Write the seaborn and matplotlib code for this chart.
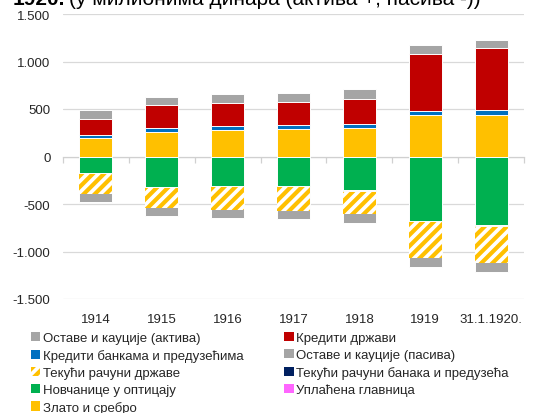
import matplotlib
matplotlib.use('Agg')  # no GUI windows

import numpy as np
import pandas as pd
import matplotlib.pyplot as plt
from matplotlib.patches import Patch
import seaborn as sns

# --------------------------------------------------
# Data (у милионима динара)
# --------------------------------------------------
years = ['1914', '1915', '1916', '1917', '1918', '1919', '31.1.1920.']

# актива (+), from zero upwards
gold_silver = [194, 261, 278, 289, 296, 437, 440]
loans_banks = [31, 35, 42, 38, 42, 42, 46]
loans_state = [173, 250, 240, 250, 271, 602, 651]
deposits_assets = [88, 84, 95, 88, 102, 88, 85]

# пасива (-), from zero downwards
notes = [178, 318, 312, 312, 357, 678, 724]
accounts_banks = [0, 0, 3, 3, 1, 5, 8]
accounts_state = [221, 227, 244, 254, 251, 388, 391]
deposits_liab = [84, 84, 88, 91, 95, 91, 88]
paid_capital = [0, 0, 0, 0, 0, 0, 0]

y_ticks = [1500, 1000, 500, 0, -500, -1000, -1500]
y_tick_labels = ['1.500', '1.000', '500', '0', '-500', '-1.000', '-1.500']

label_dep_a = 'Оставе и кауције (актива)'
label_loans_state = 'Кредити држави'
label_loans_banks = 'Кредити банкама и предузећима'
label_dep_l = 'Оставе и кауције (пасива)'
label_acc_state = 'Текући рачуни државе'
label_acc_banks = 'Текући рачуни банака и предузећа'
label_notes = 'Новчанице у оптицају'
label_capital = 'Уплаћена главница'
label_gold = 'Злато и сребро'

GRAY = '#A5A5A5'
RED = '#C00000'
BLUE = '#0070C0'
GOLD = '#FFC000'
GREEN = '#00B050'
NAVY = '#002060'
PINK = '#FF66FF'

# --------------------------------------------------
# Style
# --------------------------------------------------
sns.set_style('white')
plt.rcParams['font.family'] = ['Liberation Sans', 'DejaVu Sans']
plt.rcParams['hatch.linewidth'] = 3.0

df = pd.DataFrame({
    'year': years,
    'gold': gold_silver,
    'loans_banks': loans_banks,
    'loans_state': loans_state,
    'dep_a': deposits_assets,
    'notes': notes,
    'acc_banks': accounts_banks,
    'acc_state': accounts_state,
    'dep_l': deposits_liab,
    'capital': paid_capital,
})

# cumulative stacks (drawn largest first, overlapping)
pos_layers = [
    (df['gold'] + df['loans_banks'] + df['loans_state'] + df['dep_a'], GRAY, {}),
    (df['gold'] + df['loans_banks'] + df['loans_state'], RED, {}),
    (df['gold'] + df['loans_banks'], BLUE, {}),
    (df['gold'], GOLD, {}),
]
neg_layers = [
    (-(df['notes'] + df['acc_banks'] + df['acc_state'] + df['dep_l'] + df['capital']), GRAY, {}),
    (-(df['notes'] + df['acc_banks'] + df['acc_state'] + df['capital']), 'white',
     dict(edgecolor=GOLD, linewidth=0, hatch='///')),
    (-(df['notes'] + df['acc_banks'] + df['capital']), NAVY, {}),
    (-(df['notes'] + df['capital']), PINK, {}),
    (-df['notes'], GREEN, {}),
]

fig = plt.figure(figsize=(5.34, 4.14), dpi=100)
ax = fig.add_axes([63 / 534, 1 - 300 / 414, (524 - 63) / 534, 285 / 414])

for values, col, extra in pos_layers + neg_layers:
    kw = dict(edgecolor='white', linewidth=0.7)
    kw.update(extra)
    sns.barplot(x=df['year'], y=values, color=col, saturation=1,
                width=0.5, errorbar=None, ax=ax, **kw)

ax.set_ylim(-1500, 1500)
ax.set_xlim(-0.5, len(years) - 0.5)
ax.set_yticks(y_ticks)
ax.set_yticklabels(y_tick_labels)
ax.set_xlabel('')
ax.set_ylabel('')
ax.set_axisbelow(True)
ax.yaxis.grid(True, color='#d9d9d9', linewidth=0.9)
ax.xaxis.grid(False)
for side in ['top', 'right', 'bottom', 'left']:
    ax.spines[side].set_visible(False)
ax.tick_params(axis='both', length=0, labelsize=9.5, colors='#262626')
ax.tick_params(axis='x', pad=10)
ax.tick_params(axis='y', pad=9)

# zero axis line with category separators
sec = ax.secondary_xaxis(0.5)
sec.set_alignment('bottom')
sec.set_xticks(np.arange(-0.5, len(years), 1))
sec.tick_params(axis='x', length=4, width=0.9, color='#d0d0d0', labelbottom=False, labeltop=False)
sec.spines['bottom'].set_color('#d0d0d0')
sec.spines['bottom'].set_linewidth(0.9)
sec.set_zorder(0.5)

# --------------------------------------------------
# Legend
# --------------------------------------------------
handles = [
    Patch(facecolor=GRAY, edgecolor='none', label=label_dep_a),
    Patch(facecolor=BLUE, edgecolor='none', label=label_loans_banks),
    Patch(facecolor='white', edgecolor=GOLD, linewidth=0, hatch='///', label=label_acc_state),
    Patch(facecolor=GREEN, edgecolor='none', label=label_notes),
    Patch(facecolor=GOLD, edgecolor='none', label=label_gold),
    Patch(facecolor=RED, edgecolor='none', label=label_loans_state),
    Patch(facecolor=GRAY, edgecolor='none', label=label_dep_l),
    Patch(facecolor=NAVY, edgecolor='none', label=label_acc_banks),
    Patch(facecolor=PINK, edgecolor='none', label=label_capital),
]
fig.legend(handles=handles, ncol=2, loc='upper left',
           bbox_to_anchor=(19 / 534, 1 - 321 / 414),
           frameon=False, fontsize=9.5, handlelength=0.7, handleheight=0.7,
           handletextpad=0.2, labelspacing=0.36, columnspacing=3.1,
           labelcolor='#262626')

# --------------------------------------------------
# Title (top clipped as in the source image)
# --------------------------------------------------
t1 = fig.text(13 / 534, 1 - 5 / 414, '1920.', fontsize=15, weight='bold',
              va='baseline', ha='left', color='#000000')
fig.canvas.draw()
bb = t1.get_window_extent()
fig.text((bb.x1 + 4) / fig.bbox.width, 1 - 5 / 414,
         '(у милионима динара (актива +, пасива -))', fontsize=15,
         va='baseline', ha='left', color='#000000')

fig.savefig('out.png', dpi=100)
plt.close(fig)
